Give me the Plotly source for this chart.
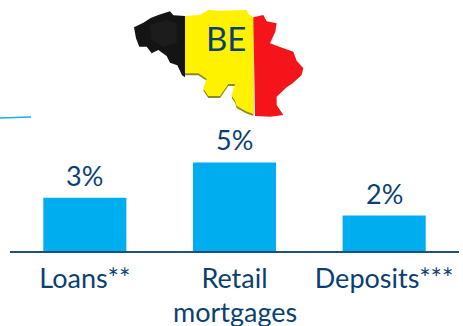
import plotly.graph_objects as go

W, H = 463, 326
categories = ["Loans**", "Retail", "Deposits***"]
second_line = {"Retail": "mortgages"}
values = [3, 5, 2]
labels = ["3%", "5%", "2%"]
map_label = "BE"

NAVY = "#0B3F73"
BLUE = "#00AEEF"
L, R, T, B = 10, 4, 130, 75
FONT = "Lato"
SIZE = 27

def px(p):
    x, y = p
    return (x - L) / (W - L - R), (H - B - y) / (H - B - T)

def zpath(points, dy=0):
    # decoration outlines, given in zoom-crop pixels (3x, origin at 120,0)
    pts = [px((120 + x / 3, (y + dy) / 3)) for x, y in points]
    return "M " + " L ".join(f"{x:.4f},{y:.4f}" for x, y in pts) + " Z"

black = [(42,82),(70,68),(92,54),(115,45),(150,34),(160,46),(195,48),(195,232),(186,226),(172,196),(150,188),(140,168),
         (115,150),(95,160),(80,140),(58,140),(48,115)]
black_glow = [(90,75),(140,60),(170,70),(170,130),(130,140),(95,120)]
yellow = [(195,48),(240,45),(265,30),(300,32),(380,30),(385,42),(400,52),(400,342),(378,334),(350,318),(345,302),
          (335,287),(345,252),(325,252),(300,288),(265,288),(250,266),(260,236),(235,220),(195,220)]
red = [(400,52),(430,45),(440,64),(470,70),(466,95),(450,130),(478,140),(520,155),(530,182),(550,205),(545,225),(518,250),
       (500,262),(470,290),(470,315),(490,345),(450,350),(405,348)]

shapes = []
for pts, col, dy in [(yellow, "#8E8A1E", 6), (yellow, "#FFF200", 0), (black, "#141414", 0), (black_glow, "#1C1C1C", 0),
                     (red, "#F5141A", 0)]:
    shapes.append(dict(type="path", xref="paper", yref="paper", path=zpath(pts, dy), fillcolor=col,
                       line=dict(width=0), layer="above"))
# short rule at the upper left
a, b = px((0, 118)), px((31, 117))
shapes.append(dict(type="line", xref="paper", yref="paper", x0=a[0], y0=a[1], x1=b[0], y1=b[1],
                   line=dict(color="#19AEE8", width=1.5)))

annotations = [dict(x=c, y=v, yref="y", xref="x", text=t, showarrow=False, yanchor="bottom", yshift=4,
                    font=dict(family=FONT, size=SIZE, color=NAVY)) for c, v, t in zip(categories, values, labels)]
for c, t in second_line.items():
    annotations.append(dict(x=c, y=0, xref="x", yref="y", text=t, showarrow=False, yanchor="middle", yshift=-60,
                            font=dict(family=FONT, size=SIZE, color=NAVY)))
mx, my = px((120 + 318 / 3, 114 / 3))
annotations.append(dict(x=mx, y=my, xref="paper", yref="paper", text=map_label, showarrow=False,
                        xanchor="center", yanchor="middle", font=dict(family=FONT, size=33, color=NAVY)))

fig = go.Figure(go.Bar(x=categories, y=values, marker=dict(color=BLUE, line=dict(width=0)), width=0.555))
fig.update_layout(
    width=W, height=H, margin=dict(l=L, r=R, t=T, b=B, pad=0), autosize=False,
    paper_bgcolor="white", plot_bgcolor="white", showlegend=False,
    shapes=shapes, annotations=annotations,
    xaxis=dict(type="category", tickfont=dict(family=FONT, size=SIZE, color=NAVY), ticks="", showgrid=False,
               showline=True, linecolor="#1F4E79", linewidth=2, zeroline=False, ticklabeloverflow="allow",
               ticklabelstandoff=3),
    yaxis=dict(range=[0, 6.83], visible=False),
)
fig.write_html("out.html", post_script="document.body.style.margin='0';", config={"displayModeBar": False})
